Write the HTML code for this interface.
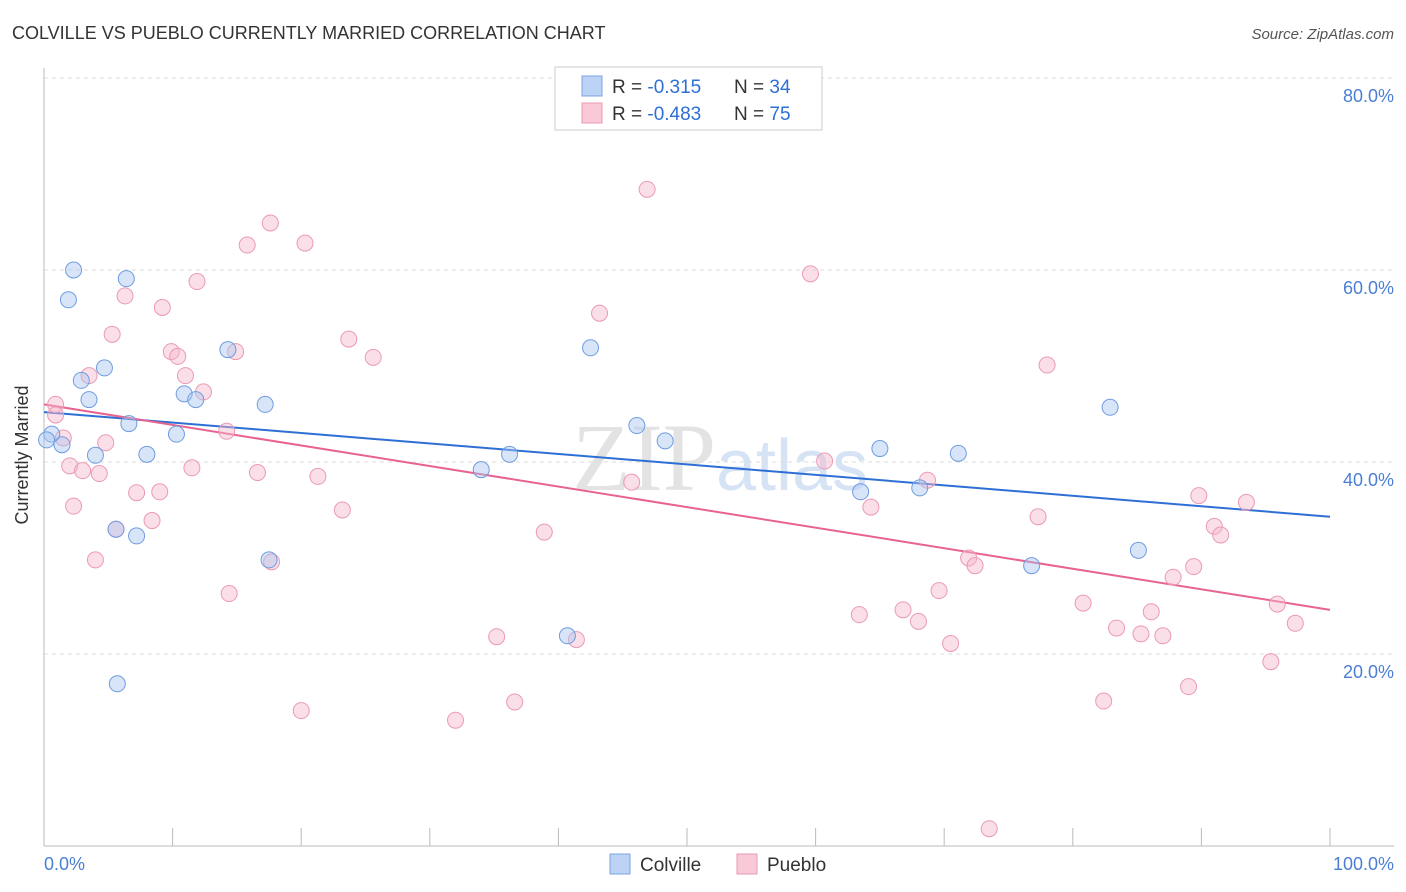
<!DOCTYPE html>
<html><head><meta charset="utf-8"><style>
body{margin:0;background:#fff;font-family:"Liberation Sans",sans-serif;}
svg{display:block}
</style></head><body>
<svg id="chart" width="1406" height="892">
<text x="12" y="39" font-size="18" fill="#333">COLVILLE VS PUEBLO CURRENTLY MARRIED CORRELATION CHART</text>
<text x="1394" y="39" font-size="15" fill="#555" text-anchor="end" font-style="italic">Source: ZipAtlas.com</text>
<text x="720" y="490" font-size="96" fill="#e3e3e3" text-anchor="middle" font-family="Liberation Serif,serif">ZIP<tspan fill="#d6e3f5" font-family="Liberation Sans,sans-serif" font-size="72">atlas</tspan></text>
<g id="grid"></g><g id="axes"></g><g id="lines"></g><g id="pts"></g>
<text x="28" y="455" font-size="18" fill="#333" text-anchor="middle" transform="rotate(-90 28 455)">Currently Married</text>
<text x="44" y="870" font-size="18" fill="#4a7fd4">0.0%</text>
<text x="1394" y="870" font-size="18" fill="#4a7fd4" text-anchor="end">100.0%</text>
<g>
<rect x="555" y="67" width="267" height="63" fill="#fff" stroke="#ccc"/>
<rect x="582" y="76" width="20" height="20" fill="#bcd3f5" stroke="#7ba3e0"/>
<rect x="582" y="103" width="20" height="20" fill="#f9c9d8" stroke="#eb9ab3"/>
<text x="612" y="93" font-size="19" fill="#333">R = <tspan fill="#2e6fd6"> -0.315</tspan><tspan x="734">N = </tspan><tspan fill="#2e6fd6">34</tspan></text>
<text x="612" y="120" font-size="19" fill="#333">R = <tspan fill="#2e6fd6">-0.483</tspan><tspan x="734">N = </tspan><tspan fill="#2e6fd6">75</tspan></text>
</g>
<g>
<rect x="610" y="854" width="20" height="20" fill="#bcd3f5" stroke="#7ba3e0"/>
<text x="640" y="871" font-size="19" fill="#333">Colville</text>
<rect x="737" y="854" width="20" height="20" fill="#f9c9d8" stroke="#eb9ab3"/>
<text x="767" y="871" font-size="19" fill="#333">Pueblo</text>
</g>
</svg>
<script>
const yTicks=[20,40,60,80];
const yTickLabels=["20.0%","40.0%","60.0%","80.0%"];
const colvilleX=[2.3,6.4,1.9,4.7,2.9,3.5,6.6,10.9,11.8,14.3,17.2,10.3,8.0,4.0,1.4,0.6,0.2,5.6,7.2,5.7,17.5,34.0,36.2,42.5,46.1,48.3,40.7,63.5,65.0,68.1,71.1,76.8,82.9,85.1];
const colvilleY=[60.0,59.1,56.9,49.8,48.5,46.5,44.0,47.1,46.5,51.7,46.0,42.9,40.8,40.7,41.8,42.9,42.3,33.0,32.3,16.9,29.8,39.2,40.8,51.9,43.8,42.2,21.9,36.9,41.4,37.3,40.9,29.2,45.7,30.8];
const puebloX=[46.9,17.6,15.8,20.3,11.9,6.3,9.2,5.3,23.7,9.9,10.4,14.9,25.6,11.0,3.5,12.4,0.9,0.9,1.5,4.8,14.2,2.0,3.0,4.3,11.5,16.6,21.3,7.2,9.0,2.3,8.4,23.2,5.6,4.0,17.7,14.4,43.2,59.6,78.0,60.7,68.7,45.7,38.9,64.3,77.3,89.8,93.5,91.0,91.5,71.9,72.4,87.8,89.4,69.6,63.4,66.8,68.0,70.5,80.8,86.1,83.4,85.3,87.0,95.9,97.3,95.4,89.0,82.4,35.2,41.4,20.0,32.0,36.6,73.5];
const puebloY=[68.4,64.9,62.6,62.8,58.8,57.3,56.1,53.3,52.8,51.5,51.0,51.5,50.9,49.0,49.0,47.3,46.0,44.9,42.5,42.0,43.2,39.6,39.1,38.8,39.4,38.9,38.5,36.8,36.9,35.4,33.9,35.0,33.0,29.8,29.6,26.3,55.5,59.6,50.1,40.1,38.1,37.9,32.7,35.3,34.3,36.5,35.8,33.3,32.4,30.0,29.2,28.0,29.1,26.6,24.1,24.6,23.4,21.1,25.3,24.4,22.7,22.1,21.9,25.2,23.2,19.2,16.6,15.1,21.8,21.5,14.1,13.1,15.0,1.8];
const colvilleTrend=[45.2,34.3];
const puebloTrend=[46.0,24.6];
const NS="http://www.w3.org/2000/svg";
const X0=44,X1=1330,Y0=846,PX=9.6;
const sx=v=>X0+(X1-X0)*v/100, sy=v=>Y0-v*PX;
function mk(t,a,p){const e=document.createElementNS(NS,t);for(const k in a)e.setAttribute(k,a[k]);document.getElementById(p).appendChild(e);return e;}
yTicks.forEach((t,i)=>{
 const g=mk('line',{x1:44,x2:1394,y1:sy(t),y2:sy(t),stroke:'#ddd','stroke-dasharray':'4,4'},'grid');
 
 
 const l=mk('text',{x:1394,y:sy(t)+24,'font-size':18,fill:'#4a7fd4','text-anchor':'end'},'grid');
 l.textContent=yTickLabels[i];
 
 
});
const ax=mk('line',{x1:44,x2:1394,y1:846,y2:846,stroke:'#bbb'},'axes');


const ay=mk('line',{x1:44,x2:44,y1:68,y2:846,stroke:'#bbb'},'axes');


for(let i=0;i<=10;i++){const t=mk('line',{x1:sx(i*10),x2:sx(i*10),y1:828,y2:846,stroke:'#bbb'},'axes');
 
 }
function pts(xs,ys,fill,stroke,name){xs.forEach((x,i)=>{const c=mk('circle',{cx:sx(x),cy:sy(ys[i]),r:8,fill:fill,'fill-opacity':0.45,stroke:stroke,'stroke-width':1},'pts');
 
 });}
pts(puebloX,puebloY,'#f7b9cd','#eb9ab3','pueblo-point');
pts(colvilleX,colvilleY,'#a9c6f0','#6f9ce0','colville-point');
const lb=mk('line',{x1:sx(0),y1:sy(colvilleTrend[0]),x2:sx(100),y2:sy(colvilleTrend[1]),stroke:'#2e6fd6','stroke-width':2},'lines');


const lp=mk('line',{x1:sx(0),y1:sy(puebloTrend[0]),x2:sx(100),y2:sy(puebloTrend[1]),stroke:'#e8638f','stroke-width':2},'lines');


</script>
</body></html>
